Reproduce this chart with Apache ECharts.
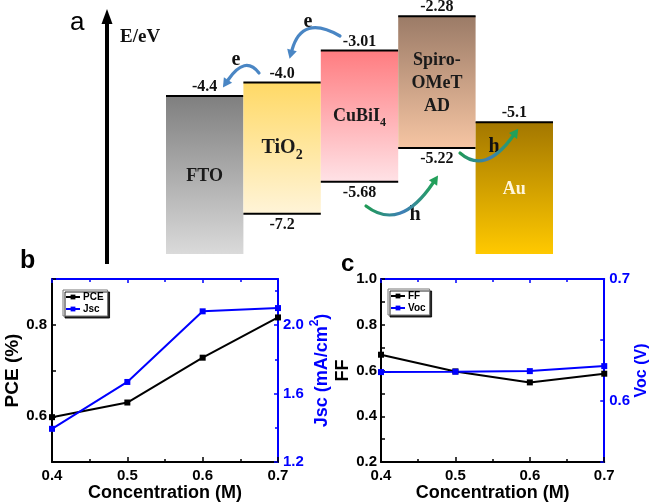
<!DOCTYPE html>
<html>
<head>
<meta charset="utf-8">
<script src="https://cdn.jsdelivr.net/npm/echarts@6/dist/echarts.min.js"></script>
<style>html,body{margin:0;padding:0;background:#fff}#c{width:651px;height:503px}</style>
</head>
<body>
<div id="c"></div>
<script>
// ---------- Panel a: energy levels (schematic) ----------
const bands = ['FTO', 'TiO2', 'CuBiI4', 'Spiro-OMeTAD', 'Au'];
const levelTopLabel = ['-4.4', '-4.0', '-3.01', '-2.28', '-5.1'];
const levelBottomLabel = ['', '-7.2', '-5.68', '-5.22', ''];
// drawn (schematic) positions of the band edges on the diagram's energy scale
const levelTopDrawn = [-4.4, -4.04, -3.19, -2.28, -5.1];
const levelBottomDrawn = [-8.6, -7.53, -6.68, -5.78, -8.6];
const bandNameMain = ['FTO', 'TiO', 'CuBiI', 'Spiro-\nOMeT\nAD', 'Au'];
const bandNameSub = ['', '2', '4', '', ''];

// ---------- Panels b & c ----------
const concentration = [0.4, 0.5, 0.6, 0.7];
const pce = [0.598, 0.630, 0.728, 0.816];
const jsc = [1.394, 1.668, 2.081, 2.100];
const ff = [0.669, 0.596, 0.548, 0.586];
const voc = [0.6237, 0.6240, 0.6245, 0.6286];

// ---------- styles ----------
const SERIF = '"Liberation Serif", "Times New Roman", serif';
const SANS = '"Liberation Sans", Arial, sans-serif';
const BLUE = '#0000ff';
const bandStyle = {
  top: ['#7f7f7f', '#ffd966', '#ff7c80', '#9b7b67', '#a37700'],
  bottom: ['#dadada', '#fff4d8', '#ffe2e6', '#f6c5a3', '#ffc900'],
  text: ['#1a1a1a', '#1a1a1a', '#1a1a1a', '#1a1a1a', '#fff6dc'],
  size: [18, 20, 18, 18, 18]
};

const measureCtx = document.createElement('canvas').getContext('2d');
function measure(t, font) { measureCtx.font = font; return measureCtx.measureText(t).width; }

const chart = echarts.init(document.getElementById('c'), null, { renderer: 'canvas' });

function bandRender(params, api) {
  const i = params.dataIndex;
  const top = api.coord([api.value(0), api.value(1)]);
  const bot = api.coord([api.value(0), api.value(2)]);
  const w = api.size([1, 0])[0];
  const x0 = top[0] - w / 2;
  const cx = top[0];
  const children = [
    { type: 'rect', shape: { x: x0, y: top[1], width: w, height: bot[1] - top[1] },
      style: { fill: new echarts.graphic.LinearGradient(0, 0, 0, 1, [
        { offset: 0, color: bandStyle.top[i] }, { offset: 1, color: bandStyle.bottom[i] }]) } },
    { type: 'line', shape: { x1: x0, y1: top[1], x2: x0 + w, y2: top[1] }, style: { stroke: '#000', lineWidth: 2 } },
    { type: 'text', style: { text: levelTopLabel[i], x: cx, y: top[1] - 9, align: 'center', verticalAlign: 'middle',
      font: 'bold 16px ' + SERIF, fill: '#111' } }
  ];
  if (levelBottomLabel[i]) {
    children.push({ type: 'line', shape: { x1: x0, y1: bot[1], x2: x0 + w, y2: bot[1] }, style: { stroke: '#000', lineWidth: 2 } });
    children.push({ type: 'text', style: { text: levelBottomLabel[i], x: cx, y: bot[1] + 11, align: 'center', verticalAlign: 'middle',
      font: 'bold 16px ' + SERIF, fill: '#111' } });
  }
  const cy = (top[1] + bot[1]) / 2;
  const fs = bandStyle.size[i];
  const mainFont = 'bold ' + fs + 'px ' + SERIF;
  if (bandNameSub[i]) {
    const sfs = Math.round(fs * 0.68);
    const subFont = 'bold ' + sfs + 'px ' + SERIF;
    const mw = measure(bandNameMain[i], mainFont), sw = measure(bandNameSub[i], subFont);
    const left = cx - (mw + sw) / 2;
    children.push({ type: 'text', style: { text: bandNameMain[i], x: left, y: cy, align: 'left', verticalAlign: 'middle', font: mainFont, fill: bandStyle.text[i] } });
    children.push({ type: 'text', style: { text: bandNameSub[i], x: left + mw, y: cy + fs * 0.38, align: 'left', verticalAlign: 'middle', font: subFont, fill: bandStyle.text[i] } });
  } else {
    children.push({ type: 'text', style: { text: bandNameMain[i], x: cx, y: cy + 1, align: 'center', verticalAlign: 'middle',
      font: mainFont, lineHeight: 23, fill: bandStyle.text[i] } });
  }
  return { type: 'group', children };
}

function curvedArrow(p0, c, p1, stroke, headColor) {
  const dx = p1[0] - c[0], dy = p1[1] - c[1];
  const L = Math.hypot(dx, dy), ux = dx / L, uy = dy / L;
  const hl = 9, hw = 5;
  const tip = [p1[0] + ux * hl, p1[1] + uy * hl];
  const px = -uy, py = ux;
  return [
    { type: 'bezierCurve', z: 100, shape: { x1: p0[0], y1: p0[1], x2: p1[0], y2: p1[1], cpx1: c[0], cpy1: c[1] },
      style: { stroke: stroke, lineWidth: 3.2, fill: null, lineCap: 'round' } },
    { type: 'polygon', z: 100, shape: { points: [tip, [p1[0] + px * hw, p1[1] + py * hw], [p1[0] - px * hw, p1[1] - py * hw]] },
      style: { fill: headColor } }
  ];
}
function hGrad(x0, x1) {
  return { type: 'linear', x: x0, y: 0, x2: x1, y2: 0, global: true,
    colorStops: [{ offset: 0, color: '#1f9a55' }, { offset: 0.55, color: '#3f7fb8' }, { offset: 1, color: '#22a05a' }] };
}

const graphicEls = [
  { type: 'text', z: 100, style: { text: 'a', x: 70, y: 23, verticalAlign: 'middle', font: '26px ' + SANS, fill: '#000' } },
  { type: 'text', z: 100, style: { text: 'b', x: 20, y: 261, verticalAlign: 'middle', font: 'bold 25px ' + SANS, fill: '#000' } },
  { type: 'text', z: 100, style: { text: 'c', x: 341, y: 264, verticalAlign: 'middle', font: 'bold 24px ' + SANS, fill: '#000' } },
  { type: 'line', z: 100, shape: { x1: 107, y1: 20, x2: 107, y2: 264 }, style: { stroke: '#000', lineWidth: 4 } },
  { type: 'polygon', z: 100, shape: { points: [[107, 9], [101.5, 24], [112.5, 24]] }, style: { fill: '#000' } },
  { type: 'text', z: 100, style: { text: 'E/eV', x: 120, y: 37, verticalAlign: 'middle', font: 'bold 19px ' + SERIF, fill: '#111' } },
  { type: 'text', z: 100, style: { text: 'e', x: 236, y: 60, align: 'center', verticalAlign: 'middle', font: 'bold 20px ' + SERIF, fill: '#111' } },
  { type: 'text', z: 100, style: { text: 'e', x: 308, y: 22, align: 'center', verticalAlign: 'middle', font: 'bold 20px ' + SERIF, fill: '#111' } },
  { type: 'text', z: 100, style: { text: 'h', x: 415, y: 215, align: 'center', verticalAlign: 'middle', font: 'bold 20px ' + SERIF, fill: '#111' } },
  { type: 'text', z: 100, style: { text: 'h', x: 494, y: 147, align: 'center', verticalAlign: 'middle', font: 'bold 20px ' + SERIF, fill: '#111' } }
].concat(
  curvedArrow([259, 73], [245, 55], [228, 80], '#4a86c4', '#4a86c4'),
  curvedArrow([340, 36], [302, 14], [292, 50], '#4a86c4', '#4a86c4'),
  curvedArrow([366, 206], [400, 232], [433, 183], hGrad(366, 433), '#22a05a'),
  curvedArrow([460, 153], [485, 175], [513, 136], hGrad(460, 513), '#22a05a')
);

const axisLabelStyle = { fontFamily: SANS, fontWeight: 'bold', fontSize: 15, color: '#000' };
function bottomX(grid) {
  return { type: 'value', gridIndex: grid, min: 0.4, max: 0.7, interval: 0.1, position: 'bottom',
    name: 'Concentration (M)', nameLocation: 'middle', nameGap: 19,
    nameTextStyle: { fontFamily: SANS, fontWeight: 'bold', fontSize: 18, color: '#000' },
    axisLine: { lineStyle: { color: '#000', width: 2 } },
    axisTick: { inside: true, length: 5, lineStyle: { color: '#000', width: 1.5 } },
    minorTick: { show: true, splitNumber: 2, length: 3, lineStyle: { color: '#000', width: 1.5 } },
    axisLabel: Object.assign({ margin: 6, formatter: v => v.toFixed(1) }, axisLabelStyle),
    splitLine: { show: false } };
}
function topX(grid) {
  return { type: 'value', gridIndex: grid, min: 0.4, max: 0.7, interval: 0.1, position: 'top',
    axisLine: { lineStyle: { color: BLUE, width: 2 } },
    axisTick: { inside: true, length: 4, lineStyle: { color: BLUE, width: 1.5 } },
    minorTick: { show: true, splitNumber: 2, length: 3, lineStyle: { color: BLUE, width: 1.5 } },
    axisLabel: { show: false }, splitLine: { show: false } };
}

const option = {
  animation: false,
  backgroundColor: '#fff',
  grid: [
    { left: 166, right: 98, top: 2, bottom: 249 },
    { left: 52, right: 373, top: 279, bottom: 41 },
    { left: 381, right: 44, top: 279, bottom: 41 }
  ],
  xAxis: [
    { type: 'category', gridIndex: 0, data: bands, show: false, boundaryGap: true },
    bottomX(1), topX(1), bottomX(2), topX(2)
  ],
  yAxis: [
    { type: 'value', gridIndex: 0, min: -8.6, max: -1.9, show: false },
    { type: 'value', gridIndex: 1, min: 0.5, max: 0.9, interval: 0.1, position: 'left',
      name: 'PCE (%)', nameLocation: 'middle', nameGap: 23, nameRotate: 90,
      nameTextStyle: { fontFamily: SANS, fontWeight: 'bold', fontSize: 19, color: '#000' },
      axisLine: { show: true, lineStyle: { color: '#000', width: 2 } },
      axisTick: { inside: true, length: 4, lineStyle: { color: '#000', width: 1.5 } },
      axisLabel: Object.assign({ margin: 5, formatter: v => { const r = Math.round(v * 10); return (r === 6 || r === 8) ? (r / 10).toFixed(1) : ''; } }, axisLabelStyle),
      splitLine: { show: false } },
    { type: 'value', gridIndex: 1, min: 1.2, max: 2.27, interval: 0.4, position: 'right',
      name: '{m|Jsc (mA/cm}{s|2}{m|)}', nameLocation: 'middle', nameGap: 31, nameRotate: 90,
      nameTextStyle: { color: BLUE, rich: {
        m: { fontFamily: SANS, fontWeight: 'bold', fontSize: 18, color: BLUE, padding: [4, 0, 0, 0], verticalAlign: 'bottom' },
        s: { fontFamily: SANS, fontWeight: 'bold', fontSize: 12, color: BLUE, verticalAlign: 'top' } } },
      axisLine: { show: true, lineStyle: { color: BLUE, width: 2 } },
      axisTick: { inside: true, length: 4, lineStyle: { color: BLUE, width: 1.5 } },
      minorTick: { show: true, splitNumber: 2, length: 3, lineStyle: { color: BLUE, width: 1.5 } },
      axisLabel: Object.assign({}, axisLabelStyle, { color: BLUE, margin: 5, showMaxLabel: false, formatter: v => v.toFixed(1) }),
      splitLine: { show: false } },
    { type: 'value', gridIndex: 2, min: 0.2, max: 1.0, interval: 0.1, position: 'left',
      name: 'FF', nameLocation: 'middle', nameGap: 27, nameRotate: 90,
      nameTextStyle: { fontFamily: SANS, fontWeight: 'bold', fontSize: 18, color: '#000' },
      axisLine: { show: true, lineStyle: { color: '#000', width: 2 } },
      axisTick: { inside: true, length: 4, lineStyle: { color: '#000', width: 1.5 } },
      axisLabel: Object.assign({ margin: 4, formatter: v => { const r = Math.round(v * 10); return r % 2 === 0 ? (r / 10).toFixed(1) : ''; } }, axisLabelStyle),
      splitLine: { show: false } },
    { type: 'value', gridIndex: 2, min: 0.55, max: 0.7, interval: 0.05, position: 'right',
      name: 'Voc (V)', nameLocation: 'middle', nameGap: 29, nameRotate: 90,
      nameTextStyle: { fontFamily: SANS, fontWeight: 'bold', fontSize: 16, color: BLUE },
      axisLine: { show: true, lineStyle: { color: BLUE, width: 2 } },
      axisTick: { inside: true, length: 4, lineStyle: { color: BLUE, width: 1.5 } },
      axisLabel: Object.assign({}, axisLabelStyle, { color: BLUE, margin: 5, formatter: v => { const r = Math.round(v * 100); return r % 10 === 0 ? (r / 100).toFixed(1) : ''; } }),
      splitLine: { show: false } }
  ],
  legend: [
    { data: ['PCE', 'Jsc'], orient: 'vertical', left: 63, top: 290, itemWidth: 14, itemHeight: 6, itemGap: 2,
      padding: [2, 4, 2, 2], backgroundColor: '#fff', borderColor: '#777', borderWidth: 1,
      shadowColor: 'rgba(0,0,0,0.85)', shadowOffsetX: 2, shadowOffsetY: 2, shadowBlur: 0,
      textStyle: { fontFamily: SANS, fontWeight: 'bold', fontSize: 10, color: '#000', padding: [0, 0, 0, -2] }, selectedMode: false },
    { data: ['FF', 'Voc'], orient: 'vertical', left: 388, top: 289, itemWidth: 14, itemHeight: 6, itemGap: 2,
      padding: [2, 4, 2, 2], backgroundColor: '#fff', borderColor: '#777', borderWidth: 1,
      shadowColor: 'rgba(0,0,0,0.85)', shadowOffsetX: 2, shadowOffsetY: 2, shadowBlur: 0,
      textStyle: { fontFamily: SANS, fontWeight: 'bold', fontSize: 10, color: '#000', padding: [0, 0, 0, -2] }, selectedMode: false }
  ],
  series: [
    { type: 'custom', name: 'bands', xAxisIndex: 0, yAxisIndex: 0, renderItem: bandRender, clip: false,
      encode: { x: 0, y: [1, 2] },
      data: bands.map((b, i) => [i, levelTopDrawn[i], levelBottomDrawn[i]]) },
    { type: 'line', name: 'PCE', xAxisIndex: 1, yAxisIndex: 1, data: concentration.map((c, i) => [c, pce[i]]),
      symbol: 'rect', symbolSize: 6, clip: false, color: '#000', lineStyle: { color: '#000', width: 2 }, itemStyle: { color: '#000' } },
    { type: 'line', name: 'Jsc', xAxisIndex: 1, yAxisIndex: 2, data: concentration.map((c, i) => [c, jsc[i]]),
      symbol: 'rect', symbolSize: 6, clip: false, color: BLUE, lineStyle: { color: BLUE, width: 2 }, itemStyle: { color: BLUE } },
    { type: 'line', name: 'FF', xAxisIndex: 3, yAxisIndex: 3, data: concentration.map((c, i) => [c, ff[i]]),
      symbol: 'rect', symbolSize: 6, clip: false, color: '#000', lineStyle: { color: '#000', width: 2 }, itemStyle: { color: '#000' } },
    { type: 'line', name: 'Voc', xAxisIndex: 3, yAxisIndex: 4, data: concentration.map((c, i) => [c, voc[i]]),
      symbol: 'rect', symbolSize: 6, clip: false, color: BLUE, lineStyle: { color: BLUE, width: 2 }, itemStyle: { color: BLUE } }
  ],
  graphic: { elements: graphicEls }
};
chart.setOption(option);
</script>
</body>
</html>
